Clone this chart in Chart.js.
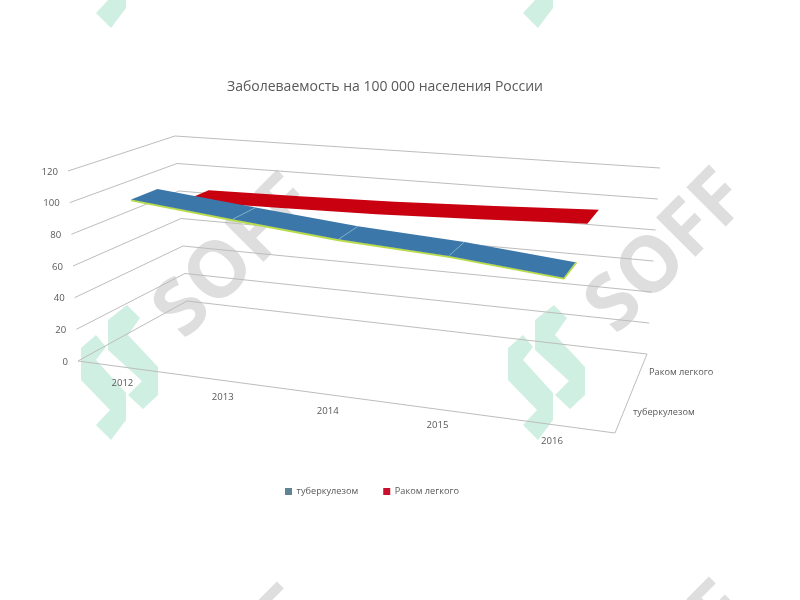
<!DOCTYPE html>
<html><head><meta charset="utf-8">
<style>html,body{margin:0;padding:0;background:#fff}canvas{display:block}</style>
<script src="https://cdn.jsdelivr.net/npm/chart.js@4/dist/chart.umd.min.js"></script>
</head><body><canvas id="c" width="800" height="600"></canvas>
<script>
const chartTitle = 'Заболеваемость на 100 000 населения России';
const years = ['2012','2013','2014','2015','2016'];
const tuberculosis = [102, 95.5, 89.5, 86, 80];
const lungCancer = [87, 88, 89.5, 92, 95];
const seriesNames = ['туберкулезом','Раком легкого'];
const seriesColors = ['#3c77a9','#c8000f'];
const legendColors = ['#5f8595','#c8102e'];
const TEXT = '#595959', GRID = '#bdbdbd', FONT = '"Open Sans", "Noto Sans", sans-serif';

// Corners of the 3D box on the page (floor and the top level of the value axis)
const box = {
  f0l:[78,361], f0r:[615,433], b0r:[647,354], b0l:[187,301],
  f1l:[68,171], f1r:[620,220], b1r:[660,168], b1l:[175,136]
};
const lerp=(a,b,t)=>[a[0]+(b[0]-a[0])*t,a[1]+(b[1]-a[1])*t];
function project(u,w,v){
  const uu=u-0.11*u*(1-u);
  const fl=lerp(lerp(box.f0l,box.f0r,uu),lerp(box.b0l,box.b0r,uu),w);
  const tp=lerp(lerp(box.f1l,box.f1r,uu),lerp(box.b1l,box.b1r,uu),w);
  return lerp(fl,tp,v);
}
const depthBands=[[0.12,0.38],[0.625,0.875]];

const wmLogo=[
 [[81,348],[96,335],[106,347],[96,360],[126,393],[126,420],[111,440],[96,425],[110,410],[81,380]],
 [[127,305],[108,320],[108,350],[142,381],[128,395],[143,409],[158,395],[158,367],[128,335],[140,318]]
];
const wmText=[[236,258],[668,253]];
function watermark(ctx){
  ctx.save();
  for(const dy of [-412,0,412]) [0,427].forEach((dx,n)=>{
    ctx.fillStyle='#d0efe3';
    for(const poly of wmLogo){
      ctx.beginPath();poly.forEach((p,i)=>{i?ctx.lineTo(p[0]+dx,p[1]+dy):ctx.moveTo(p[0]+dx,p[1]+dy)});ctx.closePath();ctx.fill();
    }
    ctx.save();
    ctx.translate(wmText[n][0],wmText[n][1]+dy);
    ctx.rotate(-Math.PI/4);
    ctx.font='bold 78px "Open Sans", sans-serif';
    ctx.fillStyle='#dedede';ctx.textAlign='center';ctx.textBaseline='middle';
    ctx.fillText('SOFF',0,0);
    ctx.restore();
  });
  ctx.restore();
}

const box3d={
  id:'box3d',
  afterLayout(chart){
    chart.legend.left-=13; chart.legend.right-=13;
  },
  beforeDraw(chart){
    const ctx=chart.ctx;
    ctx.save();ctx.fillStyle='#fff';ctx.fillRect(0,0,chart.width,chart.height);ctx.restore();
    watermark(ctx);
  },
  beforeDatasetsDraw(chart){
    const ctx=chart.ctx,a=chart.chartArea,ys=chart.scales.y,xs=chart.scales.x;
    const U=x=>(x-a.left)/(a.right-a.left), V=y=>(a.bottom-y)/(a.bottom-a.top);
    const line=(p,q)=>{ctx.beginPath();ctx.moveTo(p[0],p[1]);ctx.lineTo(q[0],q[1]);ctx.stroke();};
    ctx.save();
    ctx.strokeStyle=GRID;ctx.lineWidth=1;
    ys.ticks.forEach(t=>{
      const v=V(ys.getPixelForValue(t.value));
      line(project(0,0,v),project(0,1,v));
      line(project(0,1,v),project(1,1,v));
    });
    line(project(0,0,0),project(1,0,0));
    line(project(1,0,0),project(1,1,0));
    // value labels
    ctx.fillStyle=TEXT;ctx.font='9.6px '+FONT;ctx.textAlign='right';ctx.textBaseline='middle';
    ys.ticks.forEach(t=>{
      const p=project(0,0,V(ys.getPixelForValue(t.value)));
      ctx.fillText(t.label,p[0]-10,p[1]+1);
    });
    // category labels
    ctx.textAlign='center';
    xs.getLabels().forEach((lab,i)=>{
      const p=project(U(xs.getPixelForValue(i)),0,0);
      ctx.fillText(lab,p[0]-4,p[1]+16);
    });
    // series labels along the depth axis
    ctx.textAlign='left';ctx.font='9.2px '+FONT;
    chart.data.datasets.forEach((ds,i)=>{
      const b=depthBands[i],p=project(1,(b[0]+b[1])/2,0);
      ctx.fillText(ds.label,p[0]+10,p[1]-1);
    });
    // ribbons, back one first
    [1,0].forEach(i=>{
      const pts=chart.getDatasetMeta(i).data.map(e=>[U(e.x),V(e.y)]);
      const [w0,w1]=depthBands[i];
      const front=pts.map(p=>project(p[0],w0,p[1])), back=pts.map(p=>project(p[0],w1,p[1]));
      const ds=chart.data.datasets[i];
      if(i===0){
        ctx.strokeStyle='#b9dc4a';ctx.lineWidth=2.2;ctx.lineJoin='round';
        ctx.beginPath();
        front.forEach((p,k)=>k?ctx.lineTo(p[0],p[1]+0.8):ctx.moveTo(p[0],p[1]+0.8));
        ctx.lineTo(back[back.length-1][0]+1,back[back.length-1][1]);
        ctx.stroke();
      }
      ctx.fillStyle=ds.borderColor;
      ctx.beginPath();
      front.forEach((p,k)=>k?ctx.lineTo(p[0],p[1]):ctx.moveTo(p[0],p[1]));
      back.slice().reverse().forEach(p=>ctx.lineTo(p[0],p[1]));
      ctx.closePath();ctx.fill();
      if(i===0){
        ctx.strokeStyle='#8fc0d0';ctx.lineWidth=0.8;
        for(let k=1;k<front.length-1;k++) line(front[k],back[k]);
      }
    });
    ctx.restore();
  }
};

new Chart(document.getElementById('c'),{
  type:'line',
  data:{labels:years,datasets:[
    {label:seriesNames[0],data:tuberculosis,borderColor:seriesColors[0],backgroundColor:legendColors[0],borderWidth:0,showLine:false,pointRadius:0},
    {label:seriesNames[1],data:lungCancer,borderColor:seriesColors[1],backgroundColor:legendColors[1],borderWidth:0,showLine:false,pointRadius:0}
  ]},
  options:{
    responsive:false,animation:false,
    layout:{padding:{top:79,bottom:94,left:0,right:30}},
    scales:{
      x:{type:'category',offset:true,display:false},
      y:{min:0,max:120,display:false,ticks:{stepSize:20}}
    },
    plugins:{
      tooltip:{enabled:false},
      title:{display:true,text:chartTitle,color:TEXT,font:{family:FONT,size:14,weight:'normal'},padding:{top:0,bottom:10}},
      legend:{position:'bottom',labels:{boxWidth:7,boxHeight:7,color:TEXT,font:{family:FONT,size:9.2},padding:25}}
    }
  },
  plugins:[box3d]
});
</script></body></html>
